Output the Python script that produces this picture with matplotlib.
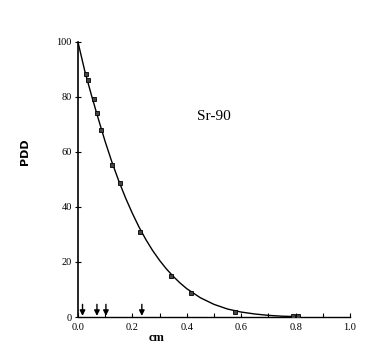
import matplotlib.pyplot as plt
from matplotlib.ticker import MultipleLocator

# measured points (depth in cm, PDD)
depth_cm = [0.029, 0.037, 0.059, 0.070, 0.085, 0.125, 0.154, 0.228, 0.342, 0.415, 0.577, 0.79, 0.81]
pdd = [88.4, 86.2, 79.3, 74.2, 68.0, 55.3, 48.7, 30.9, 14.9, 8.7, 1.9, 0.3, 0.2]

# fitted curve
curve_x = [0, 0.025, 0.05, 0.075, 0.1, 0.125, 0.15, 0.175, 0.2, 0.225, 0.25,
           0.275, 0.3, 0.325, 0.35, 0.375, 0.4, 0.45, 0.5, 0.55, 0.6, 0.65,
           0.7, 0.75, 0.8]
curve_y = [100, 89.5, 80.5, 72.0, 63.8, 56.3, 49.5, 43.3, 37.7, 32.6, 28.1,
           24.1, 20.6, 17.5, 14.8, 12.4, 10.3, 7.0, 4.6, 2.9, 1.8, 1.1,
           0.6, 0.3, 0.15]

# arrow positions along the depth axis
arrow_x = [0.017, 0.070, 0.103, 0.235]

x_ticks = [0.0, 0.2, 0.4, 0.6, 0.8, 1.0]
y_ticks = [0, 20, 40, 60, 80, 100]

serif = 'Liberation Serif'

fig = plt.figure(figsize=(3.8, 3.52), dpi=100)
ax = fig.add_axes([0.205, 0.0994, 0.716, 0.782])

ax.plot(curve_x, curve_y, color='black', lw=1.0, zorder=2,
        solid_joinstyle='round')
ax.plot(depth_cm, pdd, linestyle='none', marker='s', markersize=3.2,
        mfc='#444444', mec='black', mew=0.6, zorder=3)

for xa in arrow_x:
    ax.annotate('', xy=(xa, 0.4), xytext=(xa, 4.6),
                arrowprops=dict(arrowstyle='-|>', color='black', lw=1.0,
                                mutation_scale=8, shrinkA=0, shrinkB=0))

ax.set_xlim(0, 1.0)
ax.set_ylim(0, 100)
ax.spines['top'].set_visible(False)
ax.spines['right'].set_visible(False)
ax.spines['left'].set_linewidth(1.2)
ax.spines['bottom'].set_linewidth(1.0)

ax.set_xticks(x_ticks)
ax.set_xticklabels([f'{v:.1f}' for v in x_ticks], fontfamily=serif, fontsize=7.5)
ax.xaxis.set_minor_locator(MultipleLocator(0.1))
ax.tick_params(axis='x', which='both', direction='in', length=3, width=0.8, pad=4)

ax.set_yticks(y_ticks)
ax.set_yticklabels([str(v) for v in y_ticks], fontfamily=serif, fontsize=7.5)
ax.tick_params(axis='y', direction='inout', length=5, width=0.8, pad=2)

ax.text(0.29, -0.075, 'cm', transform=ax.transAxes, ha='center', va='center',
        fontfamily=serif, fontsize=9, fontweight='bold')
fig.text(25 / 380, 1 - 152 / 352, 'PDD', rotation=90, ha='center', va='center',
         fontsize=8, fontweight='bold')
ax.text(0.5, 73, 'Sr-90', ha='center', va='center', fontfamily=serif, fontsize=11)

fig.savefig('out.png', dpi=100)
